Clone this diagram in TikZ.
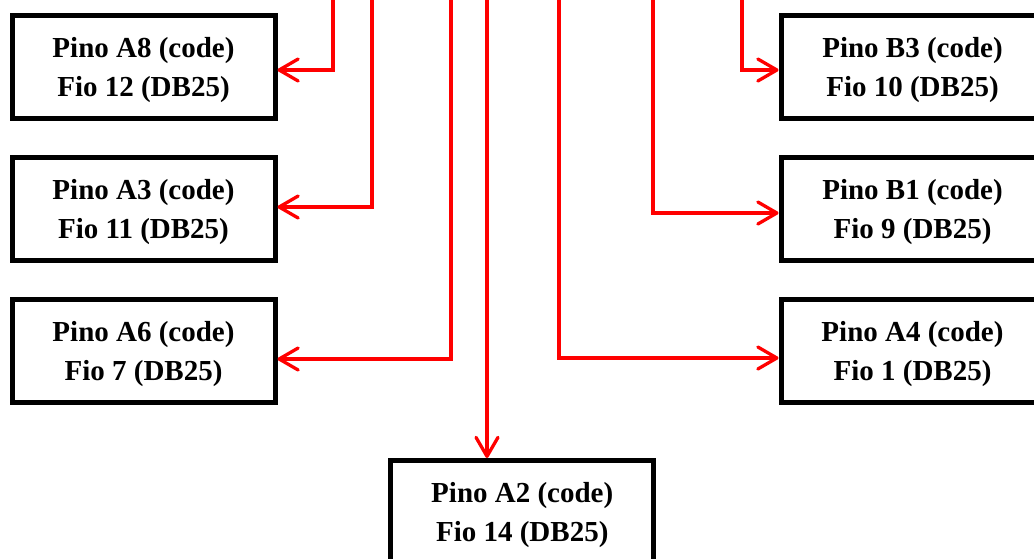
\documentclass[tikz,border=0pt]{standalone}
\usepackage{fontspec}
\setmainfont{Liberation Serif}
\usepackage{tikz}
\usetikzlibrary{arrows.meta,positioning}

\begin{document}
\begin{tikzpicture}[
    x=1pt, y=1pt,
    node distance=34pt and 501pt,
    pino/.style={rectangle, draw, line width=5pt, minimum width=263pt, minimum height=103pt, align=center, inner sep=0pt, text depth=0pt, font=\bfseries\fontsize{29}{39}\selectfont},
    wire/.style={-{Straight Barb[length=19pt, width=22pt, round]}, draw=red, line width=3.3pt},
]
    \path[use as bounding box, clip] (0,0) rectangle (1034,-558);

    % Left column
    \node[pino] (a8) at (143.5,-66.5) {Pino A8 (code)\\Fio 12 (DB25)};
    \node[pino, below=of a8] (a3) {Pino A3 (code)\\Fio 11 (DB25)};
    \node[pino, below=of a3] (a6) {Pino A6 (code)\\Fio 7 (DB25)};

    % Right column
    \node[pino, right=of a8] (b3) {Pino B3 (code)\\Fio 10 (DB25)};
    \node[pino, below=of b3] (b1) {Pino B1 (code)\\Fio 9 (DB25)};
    \node[pino, below=of b1] (a4) {Pino A4 (code)\\Fio 1 (DB25)};

    % Bottom
    \node[pino] (a2) at (522.25,-512) {Pino A2 (code)\\Fio 14 (DB25)};

    % Wires coming from above
    \coordinate (t8) at (333,5);
    \coordinate (t3) at (372,5);
    \coordinate (t6) at (451,5);
    \coordinate (t2) at (487,5);
    \coordinate (t4) at (559,5);
    \coordinate (tb1) at (653,5);
    \coordinate (tb3) at (742,5);

    \draw[wire] (t8) |- ([yshift=-3.5pt]a8.east);
    \draw[wire] (t3) |- ([yshift=1.5pt]a3.east);
    \draw[wire] (t6) |- ([yshift=-8.5pt]a6.east);
    \draw[wire] (t2) -- (t2 |- a2.north);
    \draw[wire] (t4) |- ([yshift=-7.5pt]a4.west);
    \draw[wire] (tb1) |- ([yshift=-4.5pt]b1.west);
    \draw[wire] (tb3) |- ([yshift=-3.5pt]b3.west);
\end{tikzpicture}
\end{document}
